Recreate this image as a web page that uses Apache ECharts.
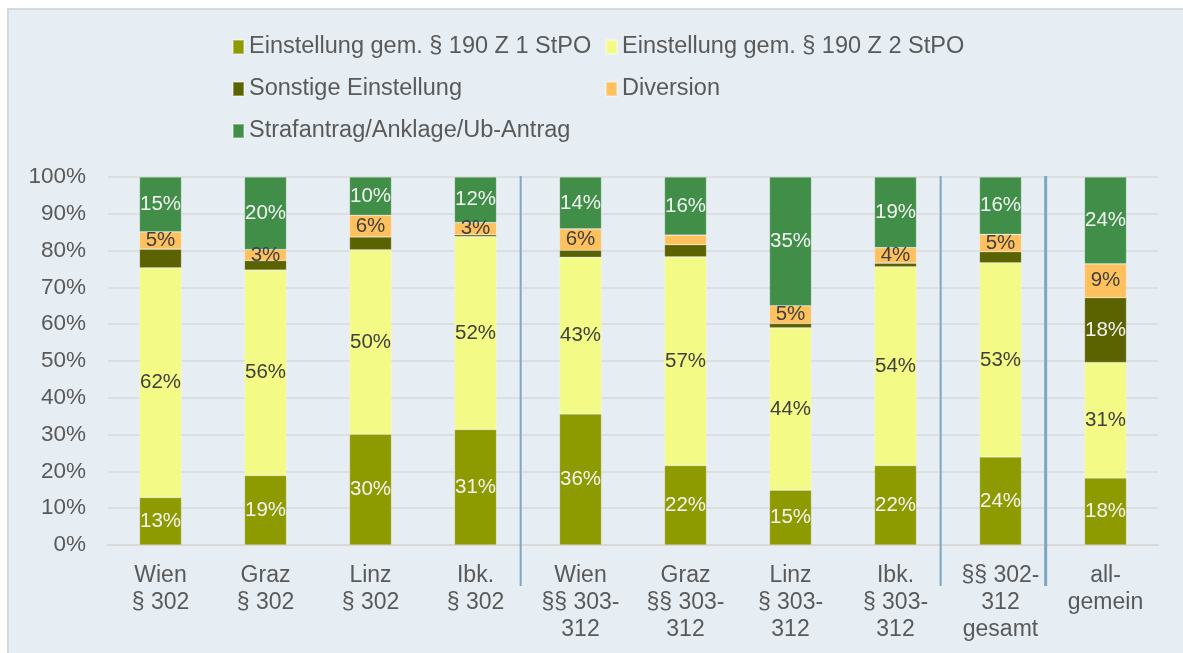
<!DOCTYPE html>
<html>
<head>
<meta charset="utf-8">
<script src="https://cdn.jsdelivr.net/npm/echarts@6/dist/echarts.min.js"></script>
<style>
html,body{margin:0;padding:0;background:#ffffff;width:1183px;height:653px;overflow:hidden;}
#bg{position:absolute;left:7px;top:8px;width:1176px;height:645px;background:#E6EEF4;border-left:2px solid #D9D9D9;border-top:2px solid #D9D9D9;box-sizing:border-box;}
#c{position:absolute;left:0;top:0;width:1183px;height:653px;}
</style>
</head>
<body>
<div id="bg"></div>
<div id="c"></div>
<script>
const categories = ["Wien\n§ 302","Graz\n§ 302","Linz\n§ 302","Ibk.\n§ 302","Wien\n§§ 303-\n312","Graz\n§§ 303-\n312","Linz\n§ 303-\n312","Ibk.\n§ 303-\n312","§§ 302-\n312\ngesamt","all-\ngemein"];
const seriesNames = ["Einstellung gem. § 190 Z 1 StPO","Einstellung gem. § 190 Z 2 StPO","Sonstige Einstellung","Diversion","Strafantrag/Anklage/Ub-Antrag"];
const z1 = [12.9, 18.9, 30.1, 31.4, 35.6, 21.6, 14.9, 21.6, 23.9, 18.2];
const z2 = [62.4, 55.8, 50.1, 52.4, 42.6, 56.7, 44.1, 54.0, 52.8, 31.4];
const sonstige = [5.1, 2.6, 3.5, 0.5, 1.9, 3.3, 1.2, 1.0, 3.0, 17.6];
const diversion = [4.7, 3.0, 5.9, 3.3, 5.8, 2.6, 4.8, 4.2, 4.7, 9.2];
const strafantrag = [14.9, 19.7, 10.4, 12.4, 14.1, 15.8, 35.0, 19.2, 15.6, 23.6];
const yTicks = [0,10,20,30,40,50,60,70,80,90,100];
// which labels are shown per series
const showSonstige = [false,false,false,false,false,false,false,false,false,true];
const showDiversion = [true,true,true,true,true,false,true,true,true,true];
const separatorsAfter = [3, 7, 8];

const colors = ["#8E9B00","#F3FB86","#5B6300","#FFC15E","#408E48"];
const labelColors = ["#F2F2F2","#404040","#F2F2F2","#404040","#F2F2F2"];
const FONT = "'Liberation Sans', Arial, sans-serif";

function mk(idx, values, showArr){
  return {
    name: seriesNames[idx], type: 'bar', stack: 'total', barWidth: 42,
    itemStyle: {color: colors[idx], borderColor: 'rgba(255,255,255,0.35)', borderWidth: 0.6},
    label: {show: true, position: 'inside', color: labelColors[idx], fontFamily: FONT, fontSize: 20.5,
      formatter: p => Math.round(p.value) + '%'},
    data: values.map((v,i) => showArr ? {value: v, label: {show: showArr[i]}} : v)
  };
}

const chart = echarts.init(document.getElementById('c'), null, {renderer: 'canvas'});
chart.setOption({
  animation: false,
  backgroundColor: 'transparent',
  textStyle: {fontFamily: FONT},
  legend: {
    left: 227, top: 24, width: 780, orient: 'horizontal',
    itemWidth: 11, itemHeight: 14, itemGap: 6, icon: 'rect',
    textStyle: {color: '#595959', fontSize: 23.5, fontFamily: FONT, width: 350, lineHeight: 36},
    data: seriesNames
  },
  grid: {left: 108, right: 25, top: 177, bottom: 108, containLabel: false},
  xAxis: {
    type: 'category', data: categories,
    axisTick: {show: false},
    axisLine: {lineStyle: {color: '#D9D9D9', width: 2}},
    axisLabel: {color: '#595959', fontSize: 23, fontFamily: FONT, lineHeight: 27, margin: 17, interval: 0}
  },
  yAxis: {
    type: 'value', min: yTicks[0], max: yTicks[yTicks.length-1], interval: 10,
    axisLine: {show: false}, axisTick: {show: false},
    splitLine: {lineStyle: {color: '#D9D9D9', width: 1.5}},
    axisLabel: {color: '#595959', fontSize: 22.5, fontFamily: FONT, margin: 22, formatter: '{value}%'}
  },
  series: [mk(0, z1), mk(1, z2), mk(2, sonstige, showSonstige), mk(3, diversion, showDiversion), mk(4, strafantrag)]
});

// separator lines between groups, positioned from the category scale
const yTop = chart.convertToPixel({yAxisIndex: 0}, 100);
const yBot = chart.convertToPixel({yAxisIndex: 0}, 0) + 41;
const g = separatorsAfter.map((i, k) => {
  const a = chart.convertToPixel({xAxisIndex: 0}, i);
  const b = chart.convertToPixel({xAxisIndex: 0}, i + 1);
  const x = a + (b - a) * 0.43;
  return {type: 'line', shape: {x1: x, y1: yTop - 1, x2: x, y2: yBot},
    style: {stroke: '#7BA7C4', lineWidth: k === 2 ? 3 : 2}, z: 100};
});
chart.setOption({graphic: g});
</script>
</body>
</html>
